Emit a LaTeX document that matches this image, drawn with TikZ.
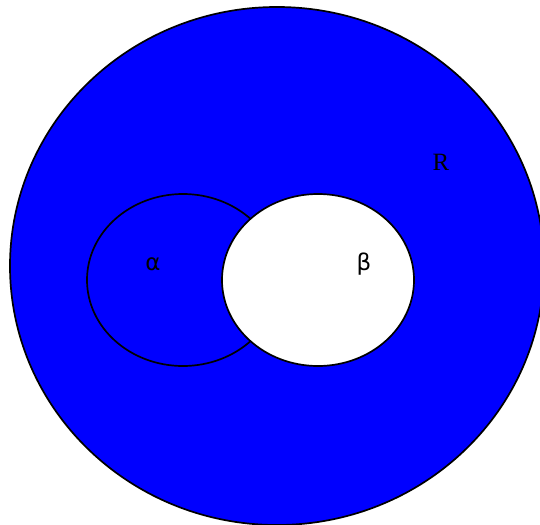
\documentclass[tikz,border=0pt]{standalone}
\usepackage{fontspec}
\setmainfont{Liberation Serif}
\newfontfamily\lblsans{DejaVu Sans}
\usetikzlibrary{shapes.geometric}
\begin{document}
\begin{tikzpicture}[x=1bp,y=-1bp,
  region/.style={ellipse, draw=black, line width=1.7bp, inner sep=0pt},
  lbl/.style={inner sep=0pt, font=\fontsize{25}{29}\selectfont}]
\useasboundingbox (0,0) rectangle (540,525);
\node[region, fill=blue, minimum width=534bp, minimum height=518bp] (R) at (277,266) {};
\node[region, fill=blue, minimum width=192bp, minimum height=172bp] (A) at (183,280) {};
\node[region, fill=white, minimum width=192bp, minimum height=172bp] (B) at (318,280) {};
\node[lbl] (Rl) at (441,162) {R};
\node[lbl, font=\lblsans\fontsize{23}{27}\selectfont] (Al) at (153,264) {α};
\node[lbl, font=\lblsans\fontsize{23}{27}\selectfont] (Bl) at (364,264) {β};
\end{tikzpicture}
\end{document}
